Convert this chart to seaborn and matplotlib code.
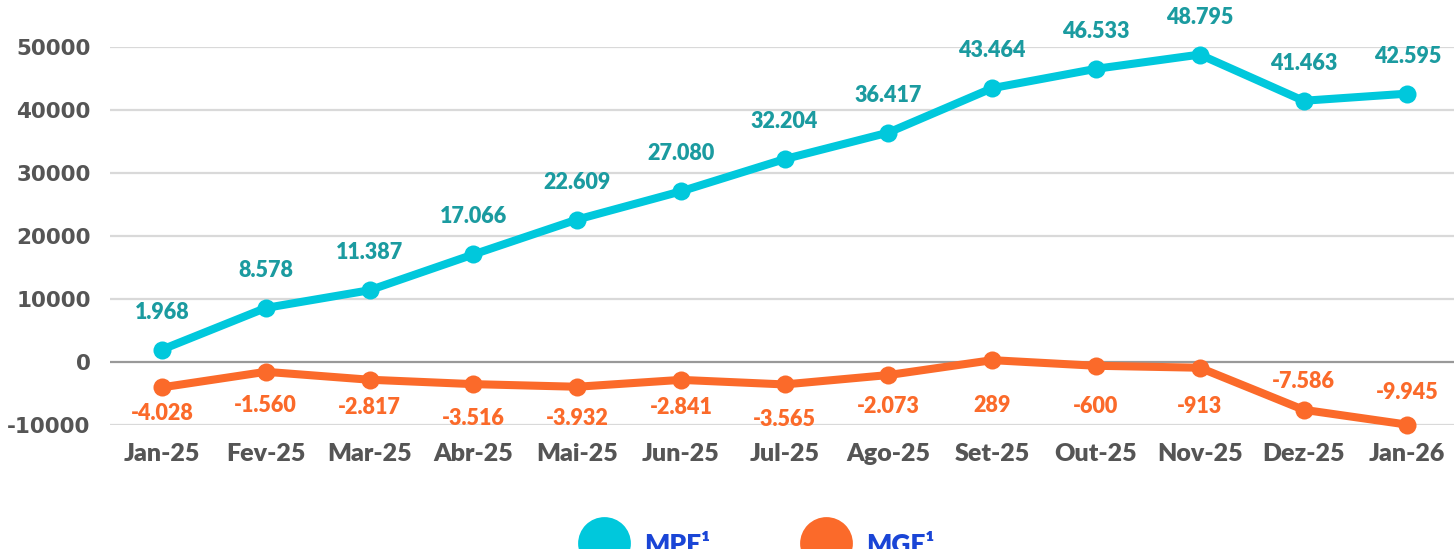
import numpy as np
import pandas as pd
import matplotlib.pyplot as plt
import seaborn as sns
from matplotlib.lines import Line2D

meses = ["Jan-25", "Fev-25", "Mar-25", "Abr-25", "Mai-25", "Jun-25", "Jul-25",
         "Ago-25", "Set-25", "Out-25", "Nov-25", "Dez-25", "Jan-26"]
mpe = [1968, 8578, 11387, 17066, 22609, 27080, 32204, 36417, 43464, 46533, 48795, 41463, 42595]
mge = [-4028, -1560, -2817, -3516, -3932, -2841, -3565, -2073, 289, -600, -913, -7586, -9945]
series = ["MPE¹", "MGE¹"]

COR_MPE, COR_MPE_TXT = "#00C8DC", "#1B9BA0"
COR_MGE = "#FB6A2A"

sns.set_theme(style="white")
plt.rcParams["font.family"] = ["Lato", "DejaVu Sans"]
plt.rcParams["axes.unicode_minus"] = False

df = pd.DataFrame({
    "mes": list(range(len(meses))) * 2,
    "valor": mpe + mge,
    "serie": [series[0]] * len(meses) + [series[1]] * len(meses),
})

fig = plt.figure(figsize=(14.54, 5.49), dpi=100)
ax = fig.add_axes([0.0757, 0.2259, 0.9243, 0.6885])

for y in range(-10000, 50001, 10000):
    ax.axhline(y, color="#999999" if y == 0 else "#d9d9d9", lw=1.6, zorder=0)

sns.lineplot(data=df, x="mes", y="valor", hue="serie",
             palette={series[0]: COR_MPE, series[1]: COR_MGE},
             marker="o", markersize=13, markeredgewidth=0, linewidth=5.8,
             legend=False, ax=ax, clip_on=False)

def fmt(v):
    return f"{v:,}".replace(",", ".")

# deslocamento vertical dos rótulos (pontos)
desl_mge = [-19, -24, -20, -25, -23, -20, -25, -23, -33, -29, -28, 20, 23]
for i, v in enumerate(mpe):
    ax.annotate(fmt(v), (i, v), xytext=(0, 27), textcoords="offset points",
                ha="center", va="center", fontsize=15.5, fontweight="heavy",
                color=COR_MPE_TXT, annotation_clip=False)
for i, v in enumerate(mge):
    ax.annotate(fmt(v), (i, v), xytext=(0, desl_mge[i]), textcoords="offset points",
                ha="center", va="center", fontsize=15.5, fontweight="heavy",
                color=COR_MGE, annotation_clip=False)

ax.set_xlim(-0.5, 12.45)
ax.set_ylim(-10000, 50000)
ax.set_xticks(range(len(meses)))
ax.set_xticklabels(meses)
ax.set_yticks(range(-10000, 50001, 10000))
ax.tick_params(axis="x", length=0, pad=13, labelsize=18, labelcolor="#555555")
ax.tick_params(axis="y", length=0, pad=14, labelcolor="#555555")
for lab in ax.get_xticklabels():
    lab.set_fontweight("heavy")
for lab in ax.get_yticklabels():
    lab.set_fontweight("bold")
    lab.set_fontfamily("DejaVu Sans")
    lab.set_fontsize(15.5)
ax.set_xlabel("")
ax.set_ylabel("")
sns.despine(ax=ax, left=True, bottom=True)

handles = [Line2D([], [], marker="o", linestyle="none", markersize=38,
                  markeredgewidth=0, color=c) for c in (COR_MPE, COR_MGE)]
leg = fig.legend(handles, series, loc="center", bbox_to_anchor=(0.52, 0.008),
                 ncol=2, frameon=False, columnspacing=3.4, handletextpad=0.5,
                 prop={"size": 19, "weight": "heavy"})
for t in leg.get_texts():
    t.set_color("#1A45D6")

fig.savefig("out.png", dpi=100, facecolor="white")
